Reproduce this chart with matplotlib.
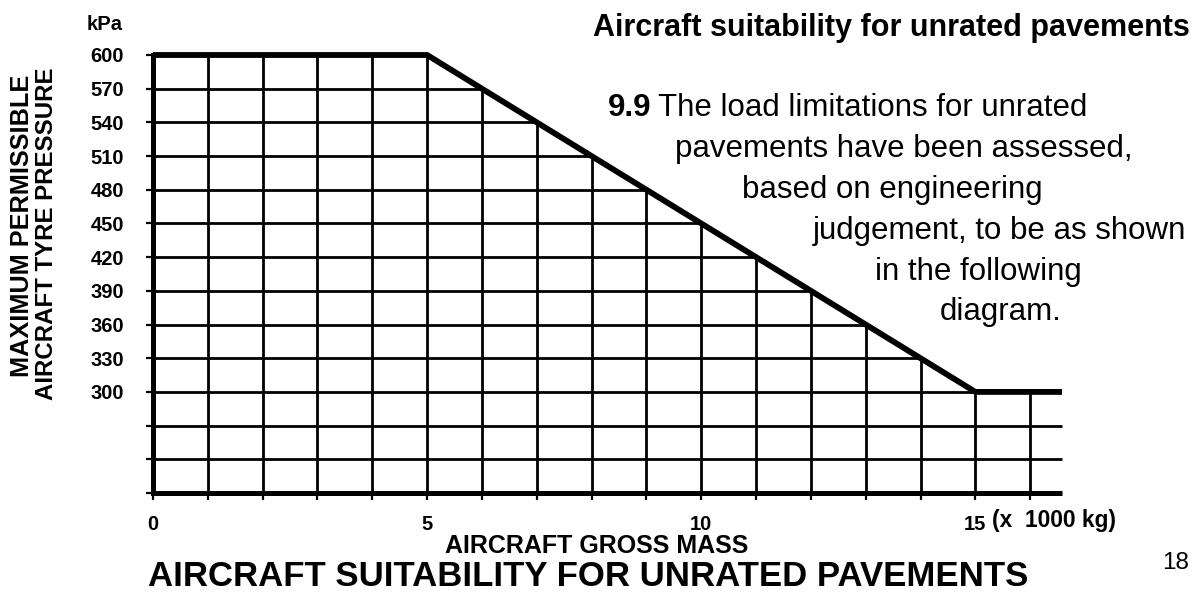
import os
import matplotlib
matplotlib.use("Agg")
import matplotlib.pyplot as plt
from matplotlib import font_manager as fm
from matplotlib.font_manager import FontProperties
import numpy as np

# ---- data ----
mass = [0, 5, 15, 16.58]           # aircraft gross mass (x 1000 kg)
pressure = [600, 600, 300, 300]    # max permissible tyre pressure (kPa)
ytick_values = [600, 570, 540, 510, 480, 450, 420, 390, 360, 330, 300]
ytick_labels = ["600", "570", "540", "510", "480", "450", "420", "390", "360", "330", "300"]
xtick_values = [0, 5, 10, 15]
xtick_labels = ["0", "5", "10", "15"]
grid_x = list(range(0, 17))
grid_y = list(range(210, 601, 30))


def font_file(name, fallback_family, weight):
    for f in fm.fontManager.ttflist:
        if os.path.basename(f.fname) == name:
            return FontProperties(fname=f.fname)
    return FontProperties(family=fallback_family, weight=weight)


REG = font_file("LiberationSans-Regular.ttf", "Liberation Sans", "normal")
BOLD = font_file("LiberationSans-Bold.ttf", "Liberation Sans", "bold")

W, H = 1203, 598
fig = plt.figure(figsize=(W / 100, H / 100), dpi=100)
X0, X1, YT, YB = 153, 1062, 55, 493
ax = fig.add_axes([X0 / W, (H - YB) / H, (X1 - X0) / W, (YB - YT) / H])
ax.set_xlim(0, 16.58)
ax.set_ylim(210, 600)

lw_grid = 2.0
for gx in grid_x[1:]:
    top = np.interp(gx, mass, pressure)
    ax.plot([gx, gx], [210, top], color="black", lw=lw_grid, clip_on=False,
            solid_capstyle="butt")
for gy in grid_y[1:-1]:
    if gy >= 300:
        xr = np.interp(gy, pressure[::-1], mass[::-1])
    else:
        xr = mass[-1]
    ax.plot([0, xr], [gy, gy], color="black", lw=lw_grid, clip_on=False,
            solid_capstyle="butt")

ax.plot(mass, pressure, color="black", lw=4.2, clip_on=False,
        solid_joinstyle="miter", solid_capstyle="butt")
ax.plot([0, mass[-1]], [210, 210], color="black", lw=3.6, clip_on=False,
        solid_capstyle="butt")

for s in ["top", "right", "bottom"]:
    ax.spines[s].set_visible(False)
ax.spines["left"].set_linewidth(3.6)

tickfp = BOLD.copy()
tickfp.set_size(14.5)
ax.set_yticks(ytick_values)
ax.set_yticklabels(ytick_labels, fontproperties=tickfp)
ax.set_yticks(grid_y, minor=True)
ax.tick_params(axis="y", which="both", length=5, width=1.6, pad=16)
ax.set_xticks(xtick_values)
ax.set_xticklabels(xtick_labels, fontproperties=tickfp)
ax.set_xticks(grid_x, minor=True)
ax.tick_params(axis="x", which="both", length=5, width=1.6, pad=11)

renderer = fig.canvas.get_renderer()


def put(x, y, s, fp, size, target_w=None, **kw):
    p = fp.copy()
    p.set_size(size)
    t = fig.text(x / W, 1 - y / H, s, fontproperties=p, **kw)
    if target_w:
        bb = t.get_window_extent(renderer)
        ext = max(bb.width, bb.height) if kw.get("rotation") else bb.width
        t.set_fontsize(size * target_w / ext)
    return t


put(965 + 27, 520, "(x  1000 kg)", BOLD, 14, target_w=124, ha="left", va="center")
put(105, 25, "kPa", BOLD, 14, target_w=36, ha="center", va="center")
put(22, 226, "MAXIMUM PERMISSIBLE", BOLD, 15, target_w=302, rotation=90,
    ha="center", va="center")
put(47, 234, "AIRCRAFT TYRE PRESSURE", BOLD, 15, target_w=332, rotation=90,
    ha="center", va="center")
put(597, 546, "AIRCRAFT GROSS MASS", BOLD, 15, target_w=305, ha="center", va="center")
put(588, 576, "AIRCRAFT SUITABILITY FOR UNRATED PAVEMENTS", BOLD, 22, target_w=876,
    ha="center", va="center")
put(1176, 563, "18", REG, 17, target_w=27, ha="center", va="center")

put(1190, 28, "Aircraft suitability for unrated pavements", BOLD, 18, target_w=597,
    ha="right", va="center")

t99 = put(608, 108, "9.9", BOLD, 18, ha="left", va="center")
para = [
    (675, 149, "pavements have been assessed,"),
    (742, 190, "based on engineering"),
    (813, 231, "judgement, to be as shown"),
    (875, 272, "in the following"),
    (940, 312, "diagram."),
]
first = put(650, 108, "The load limitations for unrated", REG, 18, ha="left", va="center")
bb99 = t99.get_window_extent(renderer)
first.set_x((bb99.x1 + 6) / W)
bbf = first.get_window_extent(renderer)
size = 18 * (1078 - bbf.x0) / bbf.width
first.set_fontsize(size)
t99.set_fontsize(size)
bb99 = t99.get_window_extent(renderer)
first.set_x((bb99.x1 + 6) / W)
for x, y, s in para:
    put(x, y, s, REG, size, ha="left", va="center")

fig.savefig("out.png", dpi=100)
